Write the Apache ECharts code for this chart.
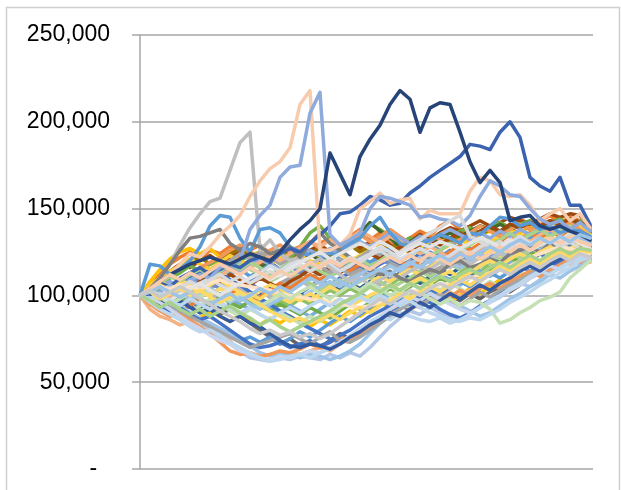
<!DOCTYPE html>
<html>
<head>
<meta charset="utf-8">
<script src="https://cdn.jsdelivr.net/npm/echarts@6/dist/echarts.min.js"></script>
<style>
  html, body { margin: 0; padding: 0; background: #ffffff; }
  #chart { width: 621px; height: 490px; }
</style>
</head>
<body>
<div id="chart"></div>
<script>
// Simulated portfolio paths, values in thousands, sampled every 2 periods
const UNIT = 1000;
const periods = [0,2,4,6,8,10,12,14,16,18,20,22,24,26,28,30,32,34,36,38,40,42,44,46,48,50,52,54,56,58,60,62,64,66,68,70,72,74,76,78,80,82,84,86,88,90];
const yTicks = [0, 50000, 100000, 150000, 200000, 250000];

// upper, warm-coloured paths
const pathA1 = [100,106,112,118,122,125,121,126,124,128,122,126,129,124,121,126,128,124,130,133,128,134,138,132,136,130,128,133,137,134,140,143,138,136,140,138,142,139,144,141,143,146,142,145,143,138];
const pathA2 = [100,108,115,121,125,127,124,127,122,126,128,123,125,121,124,120,123,126,122,127,124,129,126,131,128,124,127,130,126,129,133,130,134,131,135,137,133,138,136,140,138,142,140,144,141,137];
const pathA3 = [100,104,109,114,118,116,120,123,119,122,125,121,118,122,120,124,121,126,129,125,128,132,127,131,134,129,126,131,135,132,136,139,137,140,143,140,142,145,143,141,144,147,145,147,146,140];
const pathA4 = [100,103,107,111,115,119,122,118,121,124,127,123,120,124,122,125,128,124,127,123,126,129,125,128,131,127,130,133,129,132,135,131,134,137,135,138,136,139,141,138,140,143,141,144,142,139];
const pathA5 = [100,102,106,110,113,117,114,118,121,117,120,123,119,122,125,121,128,136,140,133,128,132,136,141,138,134,130,133,129,132,135,133,137,139,136,139,142,139,141,143,140,142,144,141,143,137];
const pathA6 = [100,105,108,104,109,113,111,115,118,114,117,120,116,119,115,118,121,124,120,123,127,131,136,142,137,133,128,131,134,130,133,136,134,137,140,138,141,138,140,142,139,143,140,142,141,136];
const pathA7 = [100,106,110,114,117,121,118,115,119,123,120,117,121,118,122,119,123,120,118,121,124,120,123,126,122,125,128,124,127,130,126,129,132,129,133,131,134,137,134,136,139,137,140,138,141,135];
const pathA8 = [100,103,99,104,108,112,116,119,122,126,129,125,122,126,129,125,128,131,127,124,128,132,135,131,134,138,134,130,133,136,132,129,132,136,140,137,134,138,141,138,141,143,140,142,138,134];

// middle paths
const pathB1 = [100,97,101,105,102,106,110,107,111,108,104,107,103,99,102,98,101,105,109,106,110,113,117,114,118,121,117,120,124,121,125,122,119,123,126,123,127,124,128,125,129,132,128,131,134,130];
const pathB2 = [100,103,107,104,108,112,109,113,116,112,115,111,114,118,115,119,122,118,121,125,121,118,122,119,123,127,124,128,125,129,126,130,127,124,128,131,128,132,129,133,136,133,130,134,137,132];
const pathB3 = [100,98,95,98,94,97,93,96,92,95,99,96,100,104,100,97,101,98,102,106,103,107,104,108,112,109,113,110,107,111,115,112,116,113,117,120,117,121,124,121,125,128,125,129,131,129];
const pathB4 = [100,101,98,102,99,103,100,104,107,103,106,102,99,103,107,110,114,110,113,117,121,118,122,126,123,119,116,120,117,121,124,121,118,122,125,128,125,122,126,123,127,130,127,131,128,126];
const pathB5 = [100,96,99,95,98,94,90,93,89,92,88,84,80,76,72,75,71,73,70,74,78,75,79,83,87,90,94,92,96,99,103,100,97,101,98,102,105,102,106,110,113,117,120,124,127,128];
const pathB6 = [100,104,101,105,109,106,110,107,104,108,105,109,113,110,114,117,113,116,112,115,119,116,120,117,121,118,114,117,121,125,122,126,123,127,124,128,131,128,132,129,133,130,134,131,135,131];
const pathB7 = [100,98,102,99,96,99,103,100,104,101,97,100,96,93,97,94,98,95,99,103,100,104,101,105,102,106,110,107,111,108,112,109,113,117,114,118,115,119,123,120,124,121,125,128,125,127];
const pathB8 = [100,102,99,96,100,97,94,97,101,98,95,92,96,93,90,94,91,88,92,96,93,97,101,98,102,99,103,107,104,108,112,109,106,110,114,111,115,119,116,120,117,121,124,121,125,124];
const pathB9 = [100,97,94,97,100,96,99,102,98,101,104,100,103,99,102,106,109,105,108,104,107,110,113,110,106,109,112,116,113,117,120,124,121,118,122,125,129,126,122,126,129,125,128,132,129,128];
const pathB10 = [100,103,106,103,107,110,113,109,112,115,118,115,112,108,111,114,110,107,103,106,109,105,108,111,108,104,107,110,114,111,115,118,115,119,122,118,122,125,122,126,129,126,130,127,131,128];

// further paths through the body of the fan
const pathE1 = [100,96,92,95,91,94,98,95,99,103,100,96,99,103,107,104,108,112,109,113,117,114,118,115,119,123,120,116,120,124,121,125,129,126,130,127,131,135,132,136,133,137,134,138,136,133];
const pathE2 = [100,102,99,96,93,90,87,91,88,85,89,86,83,87,84,88,85,82,86,83,87,91,88,92,96,93,97,101,98,102,99,96,100,104,101,105,109,106,110,114,111,115,119,122,125,124];
const pathE3 = [100,101,104,100,97,101,98,95,99,96,93,97,94,91,95,92,89,93,90,87,91,95,92,96,100,104,101,105,109,106,110,107,111,114,111,115,118,122,119,123,127,124,128,131,128,130];
const pathE4 = [100,98,101,104,107,104,108,111,108,112,109,106,110,107,104,108,111,115,112,116,113,117,120,124,121,125,128,125,129,132,129,133,136,133,137,140,137,141,139,142,140,143,141,144,142,139];
const pathE5 = [100,97,94,97,93,90,86,83,80,77,74,76,73,76,72,75,79,76,80,84,88,85,89,93,97,94,98,102,99,103,100,104,108,105,109,113,110,114,117,114,118,121,118,122,125,123];
const pathE6 = [100,104,107,111,108,112,115,112,116,120,124,121,125,122,118,121,117,114,117,113,116,112,115,111,114,118,115,119,116,113,116,120,117,121,124,121,125,122,126,129,126,130,127,131,128,127];
const pathE7 = [100,103,100,104,107,111,114,110,113,109,106,102,98,95,91,88,84,81,78,75,73,76,79,83,86,90,93,97,100,104,101,105,108,112,109,113,116,113,117,120,124,121,125,128,125,127];
const pathE8 = [100,102,105,108,105,109,106,110,113,117,114,118,121,118,115,119,122,126,123,127,124,128,131,128,132,136,133,130,134,131,135,138,135,132,136,133,137,134,138,135,139,136,140,137,134,131];
const pathE9 = [100,98,102,99,103,107,104,108,111,115,112,116,119,123,120,124,127,131,128,132,129,133,137,134,130,134,131,127,124,128,125,121,125,122,126,130,127,131,134,131,135,138,135,139,136,133];
const pathE10 = [100,104,108,105,109,106,103,100,104,101,97,101,98,102,99,96,100,97,101,105,102,106,103,107,111,108,112,115,112,116,120,117,121,118,122,126,123,127,130,127,131,134,131,135,132,130];
const pathE11 = [100,96,93,97,94,90,94,98,95,91,88,92,89,86,90,87,84,88,85,89,93,96,100,97,101,105,102,106,110,107,103,107,104,100,104,108,105,109,113,110,114,118,115,119,123,121];
const pathE12 = [100,103,107,111,108,112,115,111,114,118,115,119,116,112,115,119,115,118,114,111,114,118,121,117,120,124,120,123,127,123,126,130,126,129,133,129,132,136,132,135,138,134,137,140,136,134];
const pathE13 = [100,99,102,105,101,98,101,104,100,96,99,95,92,95,98,101,98,102,105,108,105,109,112,116,113,117,114,118,122,119,123,119,116,120,124,121,125,122,126,129,126,130,133,130,133,131];
const pathE14 = [100,97,100,103,106,103,107,110,106,103,107,110,113,117,114,118,121,118,121,118,114,117,121,124,128,125,121,124,127,124,120,123,127,124,128,131,127,130,134,130,133,129,132,135,131,129];

// paths that fall into the mid-period trough
const pathC1 = [100,92,88,86,83,85,82,84,80,74,67,65,64,66,65,67,66,68,70,68,72,75,79,84,88,92,95,93,97,101,98,102,99,103,106,103,107,110,107,111,114,118,121,118,122,119];
const pathC2 = [100,96,93,95,91,88,85,80,76,72,68,64,63,62,64,63,65,64,63,66,64,67,65,70,76,82,87,91,89,93,90,88,86,89,93,96,99,103,107,105,109,113,116,120,118,121];
const pathC3 = [100,98,95,92,94,90,87,84,81,78,75,71,67,65,67,66,64,66,65,63,65,68,72,78,84,89,92,95,93,97,100,97,94,91,88,90,94,98,101,105,108,112,110,114,117,120];
const pathC4 = [100,95,91,88,90,86,82,78,73,68,66,67,65,66,68,67,69,72,70,73,76,74,78,82,86,90,88,92,95,98,96,99,103,100,104,107,104,108,111,114,111,115,118,121,119,123];
const pathC5 = [100,97,94,91,93,89,86,88,84,80,76,72,70,71,73,70,72,74,71,73,77,80,84,88,91,94,97,95,99,96,92,89,87,90,94,97,101,104,108,111,114,117,120,123,126,124];
const pathC6 = [100,98,96,93,91,88,85,82,79,76,73,70,72,74,76,78,75,72,76,79,74,73,76,80,84,88,92,96,94,98,101,97,94,98,102,99,103,106,109,112,115,112,116,119,122,121];
const pathC7 = [100,99,96,92,88,84,81,77,74,72,68,66,64,63,65,64,66,68,67,70,73,77,81,85,88,92,96,99,97,101,98,95,92,90,93,96,100,103,106,110,113,117,115,119,122,125];
const pathC8 = [100,96,92,89,86,82,79,80,77,73,70,67,64,62,63,65,66,64,67,69,72,76,80,84,88,86,90,88,86,85,87,84,86,89,93,97,100,104,107,111,114,112,116,119,122,124];
const pathC9 = [100,101,98,95,97,93,90,92,88,85,88,84,82,78,74,71,70,72,71,69,72,76,79,83,86,90,88,92,96,93,97,101,98,102,106,103,107,110,114,117,114,118,121,124,127,126];

// paths that break far above the pack
const pathSpike = [100,104,110,118,129,139,147,154,156,172,188,194,126,132,124,120,122,118,121,116,112,108,110,106,109,112,110,114,117,115,119,116,121,118,122,120,124,121,125,128,124,127,130,126,129,127];
const pathSteel = [100,118,117,112,115,120,128,140,146,145,133,125,138,139,136,128,125,123,125,120,126,130,133,140,145,136,130,128,130,132,135,133,130,136,135,140,145,144,140,142,138,140,136,138,137,134];
const pathSlate = [100,104,110,118,126,133,134,136,138,130,126,130,128,124,126,128,122,130,136,130,126,122,118,115,112,114,110,108,112,115,113,118,120,116,118,121,119,124,126,128,125,130,128,131,129,128];
const pathBlue = [100,103,107,105,110,113,116,112,115,118,116,120,122,119,124,127,125,130,135,140,147,148,152,157,155,152,153,159,163,168,172,176,180,187,186,184,194,200,191,168,163,160,168,152,152,141];
const pathPeach = [100,104,108,112,118,124,122,128,135,140,146,157,166,173,177,185,210,218,126,126,129,135,150,154,159,153,155,156,144,149,147,147,147,160,168,166,158,157,158,152,143,147,150,143,147,139];
const pathLavender = [100,98,102,106,103,108,112,110,116,118,120,138,146,152,168,174,175,205,217,135,129,132,136,150,157,156,154,152,145,146,144,143,140,146,157,166,163,158,157,150,144,141,143,138,142,137];
const pathNavy = [100,104,108,112,115,118,120,122,120,118,121,124,122,120,125,132,138,143,150,182,170,158,180,190,198,210,218,213,194,208,211,210,194,177,165,172,165,143,145,146,140,138,140,137,135,132];

// pale paths drawn last
const pathD1 = [100,104,106,103,107,105,102,106,109,105,102,99,103,106,104,100,97,101,98,95,98,94,97,100,103,106,103,107,110,107,111,114,110,113,117,120,117,121,124,121,125,128,124,127,130,126];
const pathD2 = [100,103,105,104,106,105,104,107,109,107,106,105,104,103,101,100,99,98,97,96,95,94,93,94,96,98,100,102,103,104,106,107,108,110,112,113,115,117,120,122,124,126,128,127,125,124];
const pathD3 = [100,97,99,95,98,102,99,103,100,97,101,98,94,97,101,98,102,105,101,98,102,106,103,107,104,100,103,99,102,98,95,98,94,97,96,92,84,86,90,93,97,99,102,110,115,120];
const pathD4 = [100,102,105,101,104,108,105,109,112,108,111,107,110,114,111,115,118,114,117,121,118,122,119,123,126,122,125,129,132,136,139,143,146,134,131,128,131,127,130,126,129,132,128,131,127,126];
const pathD5 = [100,103,100,97,101,104,107,103,100,104,107,110,113,109,112,116,119,122,125,121,124,127,130,127,131,128,124,127,130,128,131,129,127,130,133,131,128,132,129,126,129,132,130,133,130,127];
const pathD6 = [100,98,101,97,94,98,95,92,96,93,90,93,89,86,90,93,90,94,97,94,98,95,99,96,100,97,94,97,93,90,88,86,85,87,86,89,92,96,99,102,106,109,113,116,120,122];
const pathD7 = [100,104,108,112,109,113,110,114,118,115,112,116,113,110,114,111,115,119,116,120,117,121,118,115,119,122,119,123,120,124,121,118,122,125,121,124,128,125,129,126,130,133,130,134,131,129];
const pathD8 = [100,102,98,101,104,100,103,99,96,99,102,98,95,91,88,85,87,84,86,89,86,90,93,90,94,97,101,98,102,105,102,106,109,106,110,113,117,114,118,121,118,122,125,122,126,125];
const pathD9 = [100,97,93,96,92,89,92,88,91,94,90,87,83,86,82,79,82,85,88,91,95,98,101,105,102,106,103,107,104,108,111,108,112,115,112,116,119,116,120,123,120,124,127,124,127,126];
const pathD10 = [100,102,105,102,99,102,98,95,98,101,97,100,104,101,105,102,106,110,107,111,108,105,109,112,115,112,116,119,116,120,123,120,124,121,125,128,125,129,132,129,133,130,134,131,135,133];
const pathD11 = [100,103,99,102,105,102,98,95,91,88,85,81,78,80,77,79,76,78,75,78,82,86,90,94,98,95,99,103,100,104,107,104,108,111,108,112,115,112,116,119,116,120,123,120,124,122];

// drawing order and colours (later entries sit on top)
const paths = [
  [pathA1, '#ED7D31'], [pathA2, '#FFC000'], [pathA3, '#9E480E'], [pathA4, '#997300'],
  [pathA5, '#70AD47'], [pathA6, '#43682B'], [pathA7, '#FFCD33'], [pathA8, '#F1975A'],
  [pathB1, '#4472C4'], [pathB2, '#5B9BD5'], [pathB3, '#255E91'], [pathB4, '#A5A5A5'],
  [pathB5, '#636363'], [pathB6, '#698ED0'], [pathB7, '#8CC168'], [pathB8, '#7CAFDD'],
  [pathB9, '#B7B7B7'], [pathB10, '#A9D18E'],
  [pathE1, '#ED7D31'], [pathE2, '#FFC000'], [pathE3, '#70AD47'], [pathE4, '#9E480E'],
  [pathE5, '#5B9BD5'], [pathE6, '#A5A5A5'], [pathE7, '#4472C4'], [pathE8, '#8FAADC'],
  [pathE9, '#F4B183'], [pathE10, '#FFD966'], [pathE11, '#C5E0B4'], [pathE12, '#A9D18E'],
  [pathE13, '#9DC3E6'], [pathE14, '#D6DCE5'],
  [pathC1, '#F4B183'], [pathC2, '#B4C7E7'], [pathC3, '#9DC3E6'], [pathC4, '#F1975A'],
  [pathC5, '#4472C4'], [pathC6, '#A5A5A5'], [pathC7, '#C9D6EE'], [pathC8, '#BDD7EE'],
  [pathC9, '#335AA1'],
  [pathSpike, '#BFBFBF'], [pathSteel, '#5B9BD5'], [pathSlate, '#7F7F7F'],
  [pathBlue, '#3A62AE'], [pathPeach, '#F8CBAD'], [pathLavender, '#8FAADC'], [pathNavy, '#264478'],
  [pathD1, '#FFD966'], [pathD2, '#FFE3C4'], [pathD3, '#C5E0B4'], [pathD4, '#D9D9D9'],
  [pathD5, '#E4E4E4'], [pathD6, '#BDD7EE'], [pathD7, '#F8CBAD'], [pathD8, '#FFD966'],
  [pathD9, '#A9D18E'], [pathD10, '#9DC3E6'], [pathD11, '#C9C9C9']
];

const chart = echarts.init(document.getElementById('chart'), null, { renderer: 'canvas' });

const series = paths.map(function (p, k) {
  return {
    name: 'Path ' + (k + 1),
    type: 'line',
    data: p[0].map(function (v, i) { return [periods[i], v * UNIT]; }),
    showSymbol: false,
    symbol: 'none',
    smooth: false,
    silent: true,
    lineStyle: { color: p[1], width: 3.5, join: 'round', cap: 'round' },
    z: 2
  };
});

function fmtTick(v) {
  if (v === 0) return '-  ';
  return v.toLocaleString('en-US');
}

chart.setOption({
  animation: false,
  backgroundColor: '#ffffff',
  graphic: [{
    type: 'rect',
    shape: { x: 6.5, y: 7.5, width: 613, height: 500 },
    style: { fill: 'none', stroke: '#cfcfcf', lineWidth: 1.5 },
    silent: true,
    z: -1
  }],
  grid: { left: 140, right: 28, top: 35, bottom: 21, containLabel: false },
  xAxis: {
    type: 'value',
    min: 0,
    max: 90.6,
    show: false
  },
  yAxis: {
    type: 'value',
    min: yTicks[0],
    max: yTicks[yTicks.length - 1],
    interval: 50000,
    axisLine: { show: true, lineStyle: { color: '#a6a6a6', width: 1.5 } },
    axisTick: { show: true, length: 8, lineStyle: { color: '#a6a6a6', width: 1.5 } },
    splitLine: { show: true, lineStyle: { color: '#a6a6a6', width: 1.5 } },
    axisLabel: {
      margin: 30,
      color: '#000000',
      fontFamily: 'Liberation Sans, Arial, sans-serif',
      fontSize: 23,
      formatter: fmtTick
    }
  },
  series: series
});
</script>
</body>
</html>
